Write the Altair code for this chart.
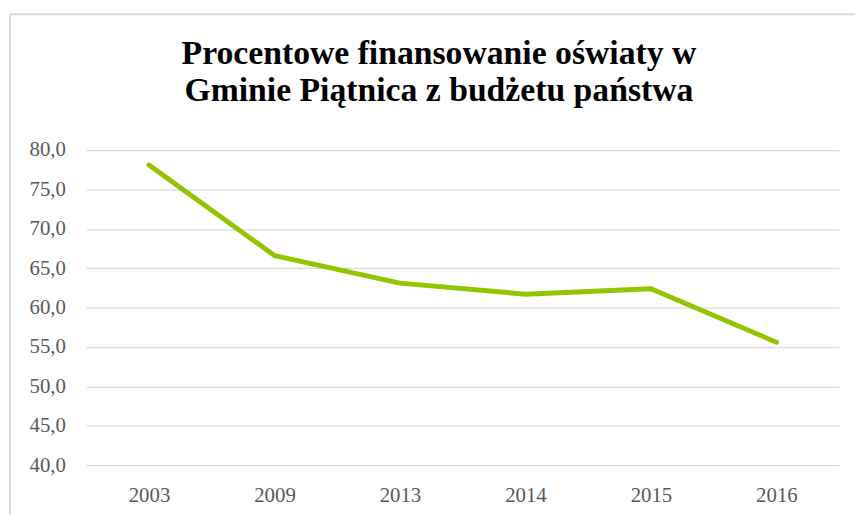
import altair as alt
import pandas as pd

years = ["2003", "2009", "2013", "2014", "2015", "2016"]
values = [78.1, 66.6, 63.1, 61.7, 62.4, 55.6]
y_ticks = [40, 45, 50, 55, 60, 65, 70, 75, 80]
title_lines = ["Procentowe finansowanie oświaty w", "Gminie Piątnica z budżetu państwa"]

df = pd.DataFrame({"rok": years, "wartosc": values})

FONT = "Liberation Serif"
GRID = "#d9d9d9"
LABEL = "#595959"

line = alt.Chart(df).mark_line(color="#92C400", strokeWidth=5, strokeCap="round", strokeJoin="round").encode(
    x=alt.X("rok:O", sort=years, title=None,
            scale=alt.Scale(paddingInner=1, paddingOuter=0.5),
            axis=alt.Axis(labelAngle=0, domain=False, ticks=False, grid=False,
                          labelFont=FONT, labelFontSize=21, labelColor=LABEL,
                          labelPadding=20)),
    y=alt.Y("wartosc:Q", title=None,
            scale=alt.Scale(domain=[40, 80], nice=False, zero=False),
            axis=alt.Axis(values=y_ticks, domain=False, ticks=False, grid=True,
                          gridColor=GRID, gridWidth=1.3,
                          labelExpr="replace(format(datum.value, '.1f'), '.', ',')",
                          labelFont=FONT, labelFontSize=21, labelColor=LABEL,
                          labelPadding=21)),
)

one = pd.DataFrame({"k": [0]})
left_border = alt.Chart(one).mark_rule(color=GRID, strokeWidth=2).encode(
    x=alt.value(-77), y=alt.value(-137), y2=alt.value(400)
)
top_border = alt.Chart(one).mark_rule(color=GRID, strokeWidth=2).encode(
    x=alt.value(-77), x2=alt.value(800), y=alt.value(-137)
)
title1 = alt.Chart(one).mark_text(
    text=title_lines[0], font=FONT, fontSize=34, fontWeight="bold", color="#000000",
    align="center", baseline="alphabetic"
).encode(x=alt.value(356), y=alt.value(-87))
title2 = alt.Chart(one).mark_text(
    text=title_lines[1], font=FONT, fontSize=34, fontWeight="bold", color="#000000",
    align="center", baseline="alphabetic"
).encode(x=alt.value(356), y=alt.value(-50))

chart = alt.layer(left_border, top_border, title1, title2, line).properties(
    width=760,
    height=318,
    autosize=alt.AutoSizeParams(type="none"),
    padding={"left": 79, "top": 141, "right": 16, "bottom": 48},
).configure_view(stroke=None)

chart.save("out.html", embed_options={"renderer": "svg", "actions": False})
